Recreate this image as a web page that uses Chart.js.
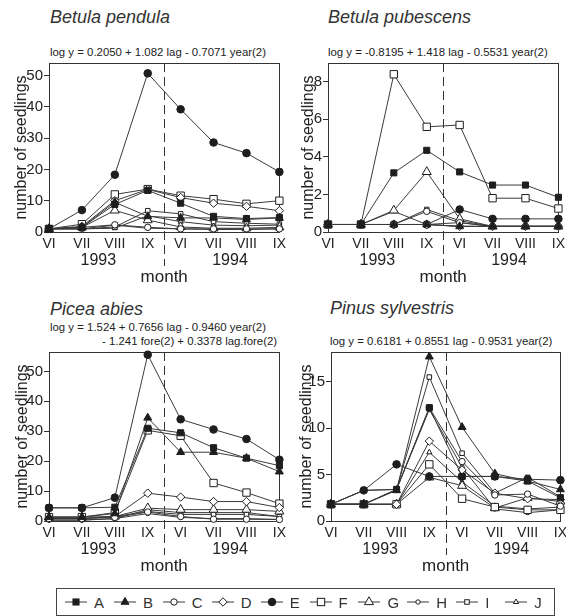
<!DOCTYPE html>
<html><head><meta charset="utf-8">
<script src="https://cdn.jsdelivr.net/npm/chart.js@4.4.1/dist/chart.umd.min.js"></script>
<style>
html,body{margin:0;padding:0;background:#fff;overflow:hidden;width:566px;height:616px;}
body{position:relative;font-family:"Liberation Sans",Arial,Helvetica,sans-serif;color:#222;}
.t{position:absolute;white-space:nowrap;line-height:1;}
.title{font-size:18px;font-style:italic;color:#333;}
.eq{font-size:11.4px;color:#222;}
canvas{position:absolute;}
#legend{position:absolute;left:56px;top:588px;width:499px;height:28px;border:1px solid #444;box-sizing:border-box;display:flex;align-items:center;padding-left:8px;}
.li{display:flex;align-items:center;width:49.5px;font-size:15px;color:#333;}
.li svg{margin-right:7px;}
</style></head><body>
<div class="t title" style="left:50px;top:8px;">Betula pendula</div>
<div class="t title" style="left:328px;top:8px;">Betula pubescens</div>
<div class="t title" style="left:50px;top:300px;">Picea abies</div>
<div class="t title" style="left:330px;top:299px;">Pinus sylvestris</div>
<div class="t eq" style="left:50px;top:47px;">log y = 0.2050 + 1.082 lag - 0.7071 year(2)</div>
<div class="t eq" style="left:328px;top:47px;">log y = -0.8195 + 1.418 lag - 0.5531 year(2)</div>
<div class="t eq" style="left:50px;top:322px;">log y = 1.524 + 0.7656 lag - 0.9460 year(2)</div>
<div class="t eq" style="left:102px;top:336px;">- 1.241 fore(2) + 0.3378 lag.fore(2)</div>
<div class="t eq" style="left:330px;top:336px;">log y = 0.6181 + 0.8551 lag - 0.9531 year(2)</div>
<canvas id="c1"></canvas><canvas id="c2"></canvas><canvas id="c3"></canvas><canvas id="c4"></canvas>
<div id="legend"></div>
<script>
// ---- data ----
const months = ['VI','VII','VIII','IX','VI','VII','VIII','IX'];
const yearLabels = ['1993','1994'];
const xTitle = 'month';
const yTitle = 'number of seedlings';
const seriesNames = ['A','B','C','D','E','F','G','H','I','J'];

// Betula pendula, series A..J
const pendula = [
  [1, 1.5, 8.8, 13.3, 9.2, 5, 4.3, 4.6],
  [1, 1.5, 9.5, 5, 4.5, 4.5, 4, 4.5],
  [1, 1.5, 2.3, 1.5, 1, 1, 1, 1],
  [1, 1.8, 10, 13.6, 11, 9.2, 8.2, 6.8],
  [1, 7, 18.3, 50.7, 39.2, 28.6, 25.2, 19.2],
  [1, 2.5, 12, 13.7, 11.6, 10.5, 9, 10],
  [1, 1.5, 6.9, 3.8, 1.6, 1.2, 1.2, 1.5],
  [1, 1, 2.2, 1.2, 1, 0.8, 0.8, 1],
  [1, 1, 1.6, 6.8, 5.8, 3.3, 2.8, 2.5],
  [1, 1, 1.2, 5.2, 3.3, 2.2, 2, 2.2]
];
// Betula pubescens
const pubescens = [
  [0.4, 0.4, 3.15, 4.35, 3.2, 2.5, 2.5, 1.85],
  [0.4, 0.4, 0.4, 0.4, 0.3, 0.3, 0.3, 0.3],
  [0.4, 0.4, 0.4, 1.1, 0.5, 0.3, 0.3, 0.3],
  [0.4, 0.4, 0.4, 0.4, 0.3, 0.3, 0.3, 0.3],
  [0.4, 0.4, 0.4, 0.4, 1.2, 0.7, 0.7, 0.7],
  [0.4, 0.4, 8.4, 5.6, 5.7, 1.8, 1.8, 1.25],
  [0.4, 0.4, 1.15, 3.2, 0.7, 0.3, 0.3, 0.3],
  [0.4, 0.4, 0.4, 0.4, 0.5, 0.3, 0.3, 0.3],
  [0.4, 0.4, 0.4, 1.2, 0.6, 0.3, 0.3, 0.3],
  [0.4, 0.4, 1.1, 0.4, 0.3, 0.3, 0.3, 0.3]
];
// Picea abies
const picea = [
  [4.4, 4.4, 4.6, 31, 29.5, 24.5, 21, 18.5],
  [1.3, 1.3, 2.5, 34.5, 23, 23, 21, 16.5],
  [0.8, 0.8, 1.2, 3, 1.5, 0.6, 0.6, 0.5],
  [0.8, 0.8, 1.5, 9.3, 8, 6.5, 6.5, 4.5],
  [4.4, 4.4, 7.8, 55.6, 34, 30.6, 27.4, 20.5],
  [1.3, 1.3, 2.8, 30.3, 28.5, 12.7, 9.5, 5.8],
  [1.3, 1.3, 1.5, 4.3, 3.8, 3.8, 3.8, 3.2],
  [0.3, 0.3, 0.8, 2.5, 1.2, 0.8, 0.8, 0.5],
  [0.8, 0.8, 1.5, 3.2, 2.2, 2.2, 2.2, 1.5],
  [0.3, 0.3, 0.8, 3.8, 2.8, 2.8, 2.8, 1.5]
];
// Pinus sylvestris
const pinus = [
  [1.8, 1.8, 3.4, 12.2, 4.8, 4.8, 4.3, 2.5],
  [1.8, 1.8, 3.3, 17.7, 10.1, 5.1, 4.3, 3.4],
  [1.8, 1.8, 3.4, 12.2, 6.4, 2.8, 2.9, 1.6],
  [1.8, 1.8, 1.8, 8.6, 5.5, 3, 2.4, 2.3],
  [1.8, 3.3, 6.1, 4.8, 4.8, 4.8, 4.5, 4.4],
  [1.8, 1.8, 1.8, 6.1, 2.4, 1.5, 1.2, 1.2],
  [1.8, 1.8, 1.8, 4.7, 3.8, 1.4, 2.5, 2.1],
  [1.8, 3.3, 3.4, 12, 5.8, 1.3, 0.9, 1.2],
  [1.8, 3.3, 3.4, 15.5, 7.3, 3, 4.7, 2.6],
  [1.8, 1.8, 1.8, 7.4, 4.2, 1.6, 1.3, 1.5]
];
const pendulaTicks = [0, 10, 20, 30, 40, 50];
const pubescensTicks = [0, 2, 4, 6, 8];
const piceaTicks = [0, 10, 20, 30, 40, 50];
const pinusTicks = [0, 5, 10, 15];
const pendulaMax = 54, pubescensMax = 9, piceaMax = 56.5, pinusMax = 18.2;

// ---- styles ----
const LINE = '#3a3a3a', INK = '#1e1e1e';
const markerStyle = [
  {shape:'rect', fill:true, r:4.3},
  {shape:'triangle', fill:true, r:4.6},
  {shape:'circle', fill:false, r:3.2},
  {shape:'rectRot', fill:false, r:4.2},
  {shape:'circle', fill:true, r:3.8},
  {shape:'rect', fill:false, r:5.2},
  {shape:'triangle', fill:false, r:5.2},
  {shape:'circle', fill:false, r:2.2},
  {shape:'rect', fill:false, r:3.2},
  {shape:'triangle', fill:false, r:3}
];

const decor = {
  id: 'decor',
  beforeDatasetsDraw(chart, args, o) {
    const {ctx, chartArea: a, scales: {x}} = chart;
    ctx.save();
    ctx.strokeStyle = '#333'; ctx.lineWidth = 1;
    ctx.strokeRect(Math.round(a.left) + 0.5, Math.round(a.top) + 0.5,
                   Math.round(a.right - a.left), Math.round(a.bottom - a.top));
    const xd = Math.round((x.getPixelForValue(3) + x.getPixelForValue(4)) / 2) + 0.5;
    ctx.setLineDash([9, 5]);
    ctx.beginPath(); ctx.moveTo(xd, a.top); ctx.lineTo(xd, a.bottom + 34); ctx.stroke();
    ctx.restore();
  },
  afterDraw(chart, args, o) {
    const {ctx, chartArea: a, scales: {x}} = chart;
    ctx.save();
    ctx.fillStyle = '#222';
    ctx.textAlign = 'center'; ctx.textBaseline = 'middle';
    ctx.font = '16px "Liberation Sans", Arial, sans-serif';
    ctx.fillText(yearLabels[0], (x.getPixelForValue(0) + x.getPixelForValue(3)) / 2, a.bottom + 29);
    ctx.fillText(yearLabels[1], (x.getPixelForValue(4) + x.getPixelForValue(7)) / 2, a.bottom + 29);
    ctx.font = '17px "Liberation Sans", Arial, sans-serif';
    ctx.fillText(xTitle, (a.left + a.right) / 2, a.bottom + 45);
    ctx.font = '16px "Liberation Sans", Arial, sans-serif';
    ctx.translate(a.left - o.yTitleOffset, (a.top + a.bottom) / 2);
    ctx.rotate(-Math.PI / 2);
    ctx.fillText(yTitle, 0, 0);
    ctx.restore();
  }
};

function makePanel(id, rows, ticks, yMax, plot, yTitleOffset) {
  const AXW = 49, PADT = 12, PADR = 10, XAH = 62;
  const cv = document.getElementById(id);
  const left = plot.L - AXW, top = plot.T - PADT;
  const w = plot.R + PADR - left, h = (plot.B - plot.T) + PADT + XAH;
  cv.width = w; cv.height = h;
  cv.style.left = left + 'px'; cv.style.top = top + 'px';
  cv.style.width = w + 'px'; cv.style.height = h + 'px';
  const datasets = rows.map((vals, i) => {
    const m = markerStyle[i];
    return {
      label: seriesNames[i], data: vals,
      borderColor: LINE, borderWidth: 1,
      pointStyle: m.shape, pointRadius: m.r, pointHoverRadius: m.r,
      pointBackgroundColor: m.fill ? INK : '#fff',
      pointBorderColor: INK, pointBorderWidth: 1,
      tension: 0, fill: false, clip: false
    };
  });
  new Chart(cv, {
    type: 'line',
    data: {labels: months, datasets},
    plugins: [decor],
    options: {
      responsive: false, animation: false, devicePixelRatio: 1,
      layout: {padding: {top: PADT, right: PADR, left: 0, bottom: 0}},
      plugins: {legend: {display: false}, tooltip: {enabled: false}, decor: {yTitleOffset}},
      scales: {
        x: {
          offset: false,
          grid: {display: false, drawTicks: false, tickLength: 0},
          border: {display: true, color: '#333'},
          ticks: {autoSkip: false, maxRotation: 0, minRotation: 0, padding: 4,
                  color: '#222', font: {size: 14, family: '"Liberation Sans", Arial, sans-serif'}},
          afterFit: s => { s.height = XAH; }
        },
        y: {
          min: 0, max: yMax,
          grid: {drawOnChartArea: false, drawTicks: true, tickLength: 5, color: '#333'},
          border: {display: true, color: '#333'},
          ticks: {padding: 1, color: '#222', font: {size: 15, family: '"Liberation Sans", Arial, sans-serif'}},
          afterBuildTicks: s => { s.ticks = ticks.map(v => ({value: v})); },
          afterFit: s => { s.width = AXW; }
        }
      }
    }
  });
}

makePanel('c1', pendula, pendulaTicks, pendulaMax, {L: 49, T: 63, R: 280, B: 232}, 27);
makePanel('c2', pubescens, pubescensTicks, pubescensMax, {L: 328, T: 63, R: 559, B: 232}, 19);
makePanel('c3', picea, piceaTicks, piceaMax, {L: 49, T: 352, R: 280, B: 521}, 26);
makePanel('c4', pinus, pinusTicks, pinusMax, {L: 331, T: 352, R: 561, B: 521}, 24);

// ---- legend ----
function markerSvg(m) {
  const cx = 11, cy = 6, fill = m.fill ? INK : '#fff';
  let shape = '';
  if (m.shape === 'rect') { const s = m.r * Math.SQRT1_2; shape = `<rect x="${cx - s}" y="${cy - s}" width="${2 * s}" height="${2 * s}"/>`; }
  else if (m.shape === 'circle') shape = `<circle cx="${cx}" cy="${cy}" r="${m.r}"/>`;
  else if (m.shape === 'rectRot') shape = `<polygon points="${cx},${cy - m.r} ${cx + m.r},${cy} ${cx},${cy + m.r} ${cx - m.r},${cy}"/>`;
  else { const r = m.r, dx = r * Math.sin(Math.PI / 3), dy = r * 0.5; shape = `<polygon points="${cx},${cy - r} ${cx + dx},${cy + dy} ${cx - dx},${cy + dy}"/>`; }
  return `<svg width="22" height="12" viewBox="0 0 22 12"><line x1="0" y1="6" x2="22" y2="6" stroke="${LINE}" stroke-width="1"/><g fill="${fill}" stroke="${INK}" stroke-width="1">${shape}</g></svg>`;
}
document.getElementById('legend').innerHTML = seriesNames.map((n, i) =>
  `<div class="li">${markerSvg(markerStyle[i])}<span>${n}</span></div>`).join('');
</script>
</body></html>
